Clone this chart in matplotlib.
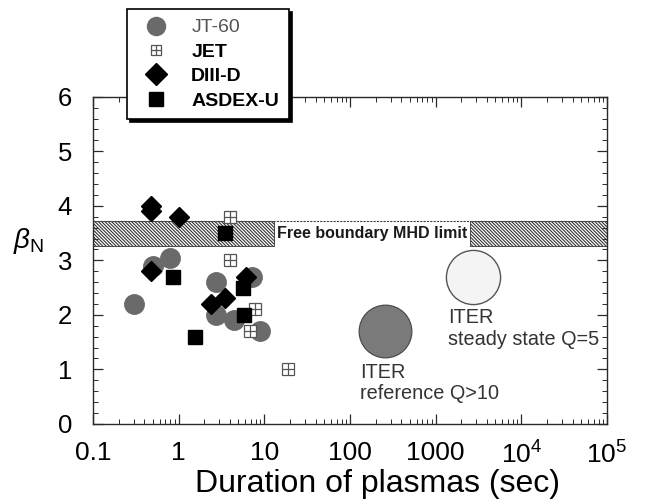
import numpy as np
import matplotlib
matplotlib.use("Agg")
import matplotlib.pyplot as plt
from matplotlib.lines import Line2D
from matplotlib.ticker import FixedLocator, FixedFormatter, MultipleLocator, LogLocator

plt.rcParams["font.family"] = ["Liberation Sans", "DejaVu Sans"]
plt.rcParams["mathtext.fontset"] = "custom"
plt.rcParams["mathtext.rm"] = "Liberation Sans"
plt.rcParams["mathtext.it"] = "Liberation Sans:italic"
plt.rcParams["hatch.linewidth"] = 0.8

# data
jt60_t = [0.3, 0.5, 0.8, 2.7, 2.7, 4.4, 7.2, 9.0]
jt60_b = [2.2, 2.9, 3.05, 2.6, 2.0, 1.9, 2.7, 1.7]

jet_t = [4.0, 4.0, 7.8, 6.8, 19.0]
jet_b = [3.8, 3.0, 2.1, 1.7, 1.0]

d3d_t = [0.48, 0.48, 1.0, 0.48, 2.4, 3.5, 6.2]
d3d_b = [4.0, 3.9, 3.8, 2.8, 2.2, 2.3, 2.7]

asdex_t = [3.5, 0.87, 1.55, 5.6, 5.8]
asdex_b = [3.5, 2.7, 1.6, 2.5, 2.0]

iter_ref = (260, 1.7)
iter_ss = (2750, 2.7)

limit_lo, limit_hi = 3.27, 3.73
hatch_left = (0.1, 13)
hatch_right = (2500, 1e5)

xticks = [0.1, 1, 10, 100, 1000, 1e4, 1e5]
xticklabels = ["0.1", "1", "10", "100", "1000", "$10^4$", "$10^5$"]

GRAY = "#6a6a6a"
AX = "#2a2a2a"

fig = plt.figure(figsize=(6.45, 5.04), dpi=100)
ax = fig.add_axes([0.144, 0.159, 0.797, 0.649])
ax.set_xscale("log")
ax.set_xlim(0.1, 1e5)
ax.set_ylim(0, 6)

# free boundary MHD limit band
for x0, x1 in (hatch_left, hatch_right):
    ax.fill_between([x0, x1], limit_lo, limit_hi, facecolor="white",
                    edgecolor="#333333", hatch="\\" * 10, linewidth=0.6, zorder=1)
ax.hlines(limit_hi, 0.1, 1e5, color="#444444", lw=0.8, linestyles=(0, (2, 1)), zorder=1)
ax.text(np.sqrt(hatch_left[1] * hatch_right[0]), (limit_lo + limit_hi) / 2,
        "Free boundary MHD limit", ha="center", va="center",
        fontsize=11.5, fontweight="bold", color="#1a1a1a", zorder=2)

# ITER
ax.plot(*iter_ref, "o", ms=38, mfc="#7a7a7a", mec="#444444", mew=0.8, zorder=2)
ax.plot(*iter_ss, "o", ms=39, mfc="#f4f4f4", mec="#555555", mew=1.0, zorder=2)
ax.text(130, 0.75, "ITER\nreference Q>10", fontsize=14.3, color="#333333",
        ha="left", va="center", linespacing=1.15)
ax.text(1390, 1.75, "ITER\nsteady state Q=5", fontsize=14.3, color="#333333",
        ha="left", va="center", linespacing=1.15)

# machines
ax.plot(jt60_t, jt60_b, "o", ms=14, mfc=GRAY, mec=GRAY, ls="none", zorder=3)
ax.plot(jet_t, jet_b, "s", ms=9, mfc="white", mec="#555555", mew=0.9, ls="none", zorder=4)
ax.plot(jet_t, jet_b, "+", ms=9, mec="#555555", mew=0.9, ls="none", zorder=4)
ax.plot(d3d_t, d3d_b, "D", ms=10, mfc="black", mec="black", ls="none", zorder=5)
ax.plot(asdex_t, asdex_b, "s", ms=9.5, mfc="black", mec="black", ls="none", zorder=5)

# axes styling
for s in ax.spines.values():
    s.set_color(AX)
    s.set_linewidth(1.0)
ax.xaxis.set_major_locator(FixedLocator(xticks))
ax.xaxis.set_major_formatter(FixedFormatter(xticklabels))
ax.xaxis.set_minor_locator(LogLocator(base=10, subs=np.arange(2, 10), numticks=20))
ax.yaxis.set_major_locator(MultipleLocator(1))
ax.yaxis.set_minor_locator(MultipleLocator(0.2))
ax.tick_params(which="both", direction="in", top=True, right=True, color=AX)
ax.tick_params(which="major", length=7, width=0.9, labelsize=19, pad=15)
ax.tick_params(which="minor", length=3.5, width=0.7)
ax.tick_params(axis="x", which="major", pad=12.5)
ax.tick_params(axis="y", which="major", labelsize=18.5)

ax.set_xlabel("Duration of plasmas (sec)", fontsize=23)
ax.xaxis.set_label_coords(0.553, -0.138)
ax.set_ylabel(r"$\beta_{\rm N}$", fontsize=20, rotation=0, ha="center", va="center")
ax.yaxis.set_label_coords(-0.125, 0.56)

# legend
h_jt = Line2D([], [], marker="o", ls="none", ms=13, mfc=GRAY, mec=GRAY)
h_jet1 = Line2D([], [], marker="s", ls="none", ms=7, mfc="white", mec="#555555", mew=0.9)
h_jet2 = Line2D([], [], marker="+", ls="none", ms=7, mec="#555555", mew=0.9)
h_d3d = Line2D([], [], marker="D", ls="none", ms=11, mfc="black", mec="black")
h_as = Line2D([], [], marker="s", ls="none", ms=9.5, mfc="black", mec="black")
leg = fig.legend([h_jt, (h_jet1, h_jet2), h_d3d, h_as],
                 ["JT-60", "JET", "DIII-D", "ASDEX-U"],
                 loc="upper left", bbox_to_anchor=(0.197, 0.982),
                 fontsize=14, frameon=True, fancybox=False,
                 shadow={"color": "black", "alpha": 1.0},
                 edgecolor="black", framealpha=1,
                 handletextpad=0.8, labelspacing=0.35, borderpad=0.5,
                 borderaxespad=0, handlelength=2.0)
leg.get_frame().set_linewidth(1.2)
for i, t in enumerate(leg.get_texts()):
    if i == 0:
        t.set_color("#555555")
    else:
        t.set_fontweight("bold")

fig.savefig("out.png", dpi=100)
